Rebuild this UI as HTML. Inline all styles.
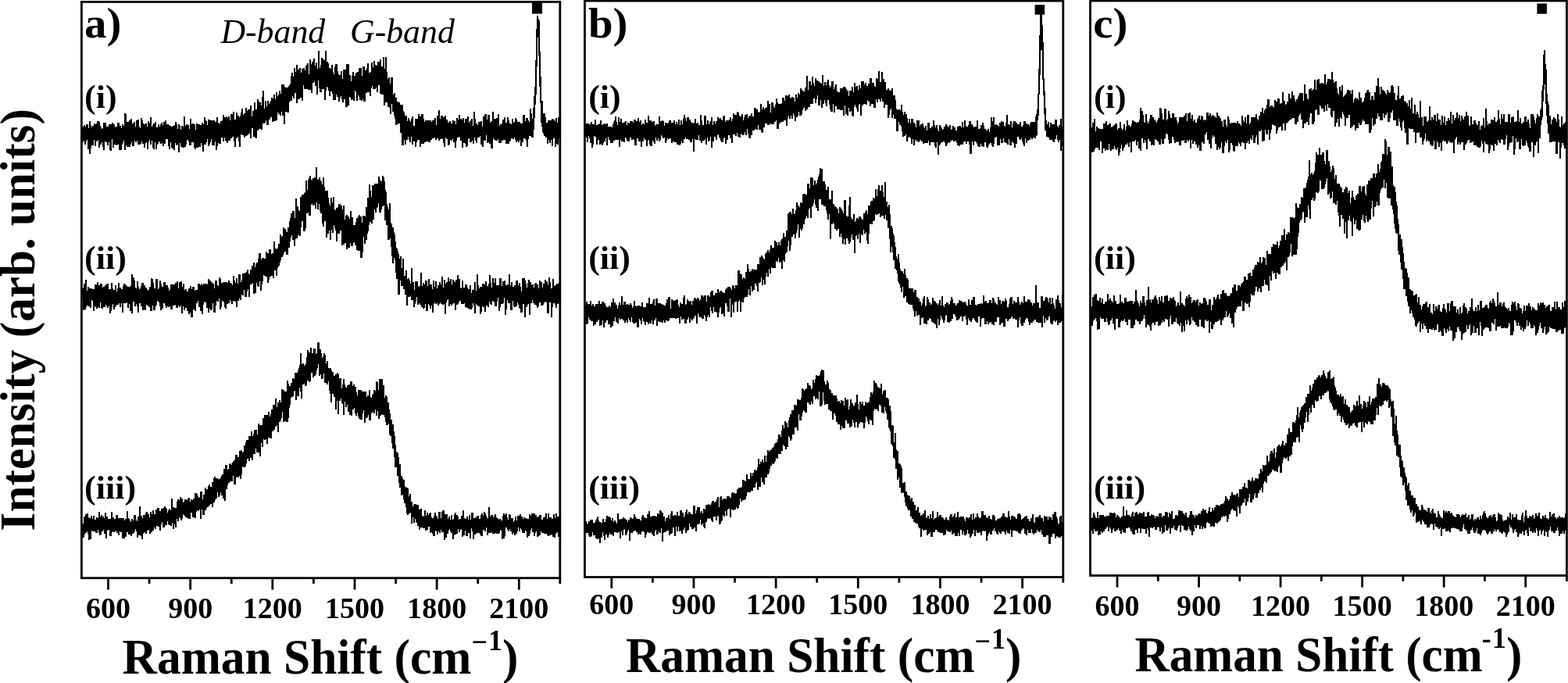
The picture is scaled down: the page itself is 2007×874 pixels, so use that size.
<!DOCTYPE html>
<html lang="en"><head><meta charset="utf-8"><title>Raman spectra</title>
<style>html,body{margin:0;padding:0;background:#fff;overflow:hidden}svg{display:block}</style></head>
<body>
<svg width="2007" height="874" viewBox="0 0 2007 874" font-family="'Liberation Serif', serif" fill="#000">
<rect width="2007" height="874" fill="#fff"/>
<g shape-rendering="crispEdges">
<path d="M105 162V162H107V160H109V162H110V159H113V164H114V155H116V160H117V163H118V161H120V158H122V159H123V158H124V155H127V156H128V161H129V163H130V165H131V164H132V157H136V162H139V159H143V157H145V159H147V163H148V162H150V157H153V161H155V164H156V159H158V161H159V145H161V146H162V156H165V154H167V152H169V158H171V156H173V162H174V154H176V153H178V162H179V164H180V151H182V154H183V158H184V159H186V158H188V162H189V155H191V157H192V150H194V162H195V160H196V158H198V156H200V163H202V159H204V162H205V159H206V157H208V160H209V156H211V154H213V159H216V160H217V161H219V162H221V161H223V160H224V156H226V159H227V165H228V159H230V161H231V166H232V161H234V162H235V149H237V161H238V159H240V160H242V165H243V152H245V159H246V158H248V159H250V166H251V158H253V159H256V160H258V157H260V159H261V150H263V154H264V155H265V160H266V153H269V154H275V156H277V150H279V157H280V158H282V155H284V154H285V147H287V150H289V149H291V151H292V149H294V154H295V146H298V143H300V153H302V144H304V148H306V150H307V148H308V144H309V139H311V147H312V145H314V138H316V142H317V140H320V135H322V149H323V142H325V131H327V140H329V127H331V130H332V131H334V135H335V124H336V116H338V139H339V129H341V136H342V129H344V133H345V131H346V129H347V125H349V126H350V121H352V127H353V118H355V123H356V121H357V116H359V120H360V108H364V111H365V112H369V110H370V109H371V107H372V97H373V93H375V98H376V87H378V92H379V83H381V89H383V87H385V93H386V88H388V87H390V90H391V84H392V83H393V81H395V95H396V76H398V82H399V79H401V75H403V84H404V80H406V88H407V65H409V87H410V83H411V74H413V76H415V77H416V65H418V79H420V81H421V87H423V88H424V83H426V92H427V95H428V85H429V82H432V91H433V95H434V96H436V91H438V101H439V89H443V82H447V96H449V104H450V97H451V92H453V97H455V93H457V92H459V87H463V97H464V85H467V90H469V87H470V81H472V93H474V92H475V80H477V86H478V78H480V83H482V84H483V79H486V76H488V85H490V73H492V88H493V73H495V92H496V101H497V99H499V107H500V99H503V121H504V119H506V125H508V130H510V131H512V134H516V142H517V144H518V148H521V155H522V151H524V154H525V156H526V152H527V149H529V161H531V152H535V146H537V149H539V146H542V152H543V156H544V154H552V156H553V154H555V153H556V151H558V160H559V148H561V141H563V152H564V148H567V150H569V148H571V153H573V156H574V157H575V155H577V158H579V154H581V155H583V159H584V151H586V153H587V147H589V152H591V153H592V151H594V157H595V152H598V149H600V157H601V155H602V154H603V152H605V161H606V143H608V152H609V158H611V160H612V156H615V155H617V162H618V149H620V146H623V153H624V147H627V157H628V155H630V143H632V152H635V151H637V146H639V161H640V159H642V158H643V153H645V150H647V157H649V150H651V154H652V158H654V159H655V152H657V157H658V156H659V151H661V153H662V156H666V158H669V147H672V155H673V151H676V154H677V156H678V139H680V145H681V152H682V138H683V123H684V111H685V77H686V37H687V20H689V24H690V26H691V66H692V98H693V129H695V145H698V150H699V157H701V154H706V152H708V153H710V155H711V151H713V157H714V150H716V177H715V185H713V184H712V188H710V177H708V187H706V179H705V183H703V179H702V184H700V176H698V174H696V171H695V169H694V162H693V157H692V132H691V111H690V72H689V48H688V85H687V121H686V134H685V151H684V166H683V176H680V174H677V178H676V188H674V180H673V178H672V177H670V182H668V187H666V179H665V182H663V180H662V182H660V179H659V176H658V178H656V177H654V180H653V181H652V184H647V179H644V180H642V183H638V178H637V180H634V179H632V177H631V190H628V184H626V182H625V183H623V173H622V180H619V188H617V185H615V174H614V176H611V183H609V180H608V176H607V184H605V180H604V182H601V177H600V178H599V187H598V188H596V184H595V183H593V189H591V180H589V176H588V175H587V176H585V180H584V189H582V182H580V178H579V180H577V179H576V185H575V186H573V178H571V176H570V188H568V183H567V178H566V177H565V178H563V180H561V177H559V179H557V176H556V177H553V179H551V182H548V181H545V182H543V184H539V188H537V179H534V182H533V188H531V181H529V185H527V175H526V182H524V179H523V175H522V179H520V185H518V179H517V186H514V170H512V158H510V159H508V160H506V152H505V148H504V143H502V133H501V146H499V138H498V137H496V131H493V135H491V121H488V120H486V109H484V118H482V112H481V114H477V110H476V113H475V123H473V118H470V119H468V130H465V127H464V129H462V128H460V124H459V122H458V129H456V118H455V116H454V129H452V127H451V128H449V125H448V124H447V135H445V137H442V127H440V131H438V127H437V123H436V125H435V130H433V124H431V121H430V128H426V120H425V117H423V123H421V116H420V112H419V111H418V116H417V128H415V114H412V118H409V113H408V103H407V121H405V110H403V104H402V106H400V119H398V115H394V114H389V109H388V129H386V125H384V127H381V132H379V119H377V126H375V123H374V129H371V131H370V144H367V143H365V159H363V148H361V143H360V148H358V146H356V144H355V154H353V155H350V156H348V150H346V153H344V160H341V154H340V157H339V158H336V166H334V165H331V167H329V177H327V176H326V175H324V164H322V177H320V171H318V173H316V174H314V176H312V173H310V172H308V188H306V181H305V175H304V177H302V188H300V181H299V175H297V177H295V180H292V183H290V181H289V180H288V176H287V181H285V176H283V184H280V183H279V187H278V192H276V181H275V186H271V178H270V182H269V185H268V187H266V178H265V182H264V185H261V194H259V186H258V183H257V188H254V189H251V191H249V189H248V182H245V186H242V181H241V179H239V185H238V188H236V189H233V188H231V183H230V195H228V185H227V186H225V183H224V192H222V190H220V189H219V182H218V191H216V187H215V178H212V184H210V187H208V183H207V184H205V182H204V181H203V184H202V185H201V191H199V182H198V191H196V189H195V180H194V185H192V179H191V182H190V191H188V182H187V183H186V189H184V184H182V181H181V184H180V185H176V180H175V182H173V180H172V187H169V182H168V185H167V188H162V186H161V192H159V180H158V183H157V185H156V192H152V185H150V186H148V185H146V189H144V178H143V193H141V192H140V182H139V186H137V182H135V181H134V192H132V188H131V182H130V185H128V189H126V179H125V181H123V187H121V179H120V186H117V190H116V197H114V191H112V179H111V181H110V185H108V180H107V182H105Z"/>
<path d="M105 369V369H106V368H107V363H109V358H111V372H112V367H114V369H118V370H121V364H124V361H126V365H128V363H131V368H132V367H134V365H136V363H139V370H142V362H144V369H145V371H147V365H149V373H150V369H151V362H153V368H155V370H157V366H158V363H160V364H161V365H162V366H163V367H167V365H168V351H170V355H172V359H173V368H174V369H175V360H177V367H178V370H179V369H180V366H181V362H184V365H186V368H188V370H189V372H190V370H191V367H193V356H195V357H196V362H197V369H199V357H202V370H203V368H204V359H206V363H207V367H209V361H212V365H215V368H216V372H217V370H218V364H224V362H226V360H228V369H229V361H231V360H233V367H234V363H236V371H237V370H239V373H241V369H243V366H245V370H246V367H249V372H250V371H253V363H256V365H257V363H259V365H260V363H265V364H266V357H268V359H270V361H272V363H274V369H275V359H278V365H279V366H280V355H282V357H283V362H285V361H291V362H292V359H294V362H296V363H297V365H298V353H300V359H301V362H302V356H304V363H305V351H308V361H309V358H310V350H313V349H315V348H316V345H318V350H319V351H320V345H322V340H324V336H326V342H327V338H328V336H330V331H331V324H334V332H335V330H338V331H340V322H342V324H344V319H347V325H348V324H350V309H352V318H354V319H355V317H356V312H358V300H360V303H361V302H362V291H364V293H366V296H367V297H368V291H370V283H371V279H372V273H374V270H377V279H378V254H380V264H382V269H383V270H384V252H386V249H389V247H390V246H391V231H393V243H394V230H395V228H396V225H398V230H400V228H402V227H404V214H406V229H407V230H408V227H410V231H411V232H412V236H413V227H415V239H416V244H420V253H421V260H422V263H423V253H425V259H426V252H428V268H429V269H430V266H432V265H433V261H436V263H438V268H439V263H441V281H442V276H443V275H445V277H447V280H448V270H450V278H452V288H455V284H456V279H458V277H459V275H461V277H463V285H464V276H467V277H468V265H470V253H472V236H474V244H475V252H476V237H479V235H484V226H486V230H487V232H489V225H491V227H492V232H493V243H494V246H495V261H496V265H497V268H498V260H500V285H501V287H502V291H504V297H505V300H506V309H507V317H508V318H509V322H510V325H511V331H512V328H514V343H515V331H517V353H519V346H521V357H522V356H524V359H525V363H526V343H528V361H530V371H531V360H535V366H536V367H537V365H538V349H540V366H541V362H543V364H544V359H547V366H548V357H550V364H553V370H554V359H556V367H557V360H559V369H560V365H562V361H564V364H565V354H567V368H568V358H570V363H571V361H573V355H575V360H576V357H578V364H579V358H581V360H582V361H583V358H585V352H587V357H589V368H590V369H591V359H593V368H595V364H598V368H599V370H601V365H603V375H604V371H606V370H607V361H609V372H610V351H612V365H613V369H614V367H617V363H620V364H621V360H623V366H625V363H626V352H628V362H629V368H630V356H632V362H633V356H635V365H639V356H642V366H643V360H645V359H647V365H649V364H651V351H653V365H654V361H656V367H658V365H660V359H663V365H664V362H666V367H667V373H668V356H672V359H673V363H674V368H675V362H676V358H678V361H680V364H683V368H684V363H685V362H687V364H689V369H690V359H692V361H694V368H695V363H697V358H699V360H701V364H702V355H704V361H705V369H707V357H709V366H710V365H712V363H715V361H716V388H715V389H713V394H711V390H710V388H708V393H707V406H705V387H703V401H700V387H699V386H698V387H696V390H695V391H692V387H690V392H689V394H687V391H686V390H684V388H682V384H681V388H679V403H677V389H676V390H675V393H673V406H671V389H669V400H666V395H665V394H664V390H663V387H662V392H660V393H658V392H657V385H656V397H653V388H650V384H649V396H648V403H646V381H645V388H644V389H641V393H640V398H638V381H637V386H636V392H633V386H631V385H630V390H628V389H627V386H626V393H624V391H622V399H620V393H618V392H617V399H616V402H614V392H612V391H610V389H609V401H607V391H606V388H605V394H604V396H601V395H599V394H597V393H595V388H594V389H590V385H588V387H587V389H586V390H584V397H582V388H580V389H579V391H577V389H576V392H574V383H573V384H572V387H571V402H569V389H568V390H566V389H564V387H563V389H562V391H560V388H559V389H557V387H556V389H555V400H553V391H552V395H550V391H549V389H548V398H545V389H544V394H543V395H541V393H539V390H537V388H536V390H534V380H533V386H532V389H531V393H529V384H526V379H525V380H522V391H520V377H518V370H516V366H513V359H512V377H509V357H507V349H506V333H505V330H504V337H502V328H501V316H500V305H499V307H496V288H494V282H492V263H491V264H489V268H488V272H485V260H484V265H483V266H482V272H480V268H479V281H477V286H475V284H473V288H472V296H471V299H470V307H468V312H466V303H465V323H464V330H461V321H458V320H456V314H454V310H453V311H452V315H449V311H448V317H445V319H443V311H441V313H439V314H437V295H435V299H432V309H430V295H429V292H428V288H427V298H425V294H424V307H422V295H421V299H419V304H417V283H415V290H413V286H412V273H410V270H409V261H408V268H406V259H405V267H403V262H402V263H400V261H399V262H398V276H395V272H394V273H392V292H391V296H388V283H386V291H385V302H383V301H381V305H379V306H378V315H376V307H374V301H373V304H372V309H371V317H369V326H366V322H364V324H363V327H362V329H360V333H359V336H358V340H357V341H356V343H355V353H353V346H351V356H349V353H347V354H345V358H344V362H342V354H340V353H338V352H337V360H336V364H335V372H333V360H332V367H330V366H329V362H328V375H326V376H324V362H323V364H320V380H318V370H317V373H316V380H313V371H312V378H310V377H309V384H307V382H306V385H304V393H302V386H300V385H298V389H296V386H295V384H294V388H292V389H290V395H288V393H287V387H286V385H284V393H283V396H281V382H280V386H278V385H277V391H276V400H273V388H272V396H271V397H269V395H268V400H266V394H264V387H262V386H261V390H260V402H258V398H256V393H254V385H253V388H251V398H249V396H247V406H244V400H243V402H241V398H239V394H237V397H235V392H234V401H232V391H231V393H229V391H228V394H225V390H224V391H221V396H218V392H217V393H215V392H214V394H212V391H211V388H209V395H207V397H205V392H204V387H203V386H202V385H201V390H200V392H199V397H196V391H195V398H192V393H190V391H188V390H187V397H185V396H184V397H182V392H180V388H178V400H176V392H175V389H174V392H172V386H170V401H168V398H166V389H165V394H163V387H162V388H158V400H156V388H155V393H153V388H152V390H149V392H148V393H147V396H145V389H144V393H143V398H142V401H140V392H139V394H137V392H136V390H135V393H132V395H130V394H129V387H128V394H126V393H125V395H123V393H122V392H121V398H119V385H118V384H117V394H115V392H113V391H111V393H110V396H108V397H106V383H105Z"/>
<path d="M105 670V670H107V661H109V658H111V657H113V662H114V663H116V660H118V664H119V660H121V665H123V662H125V663H126V655H128V661H129V659H131V661H133V663H134V656H136V661H138V664H142V655H144V662H146V664H148V659H151V663H159V666H160V664H162V654H164V663H165V664H166V666H167V668H168V664H170V666H171V659H174V665H175V667H176V661H178V648H180V660H182V663H183V659H186V656H187V655H189V657H190V658H191V662H192V655H194V658H195V653H197V658H199V652H201V650H204V654H206V651H208V650H210V648H212V650H213V651H214V656H215V653H216V651H218V653H219V638H221V649H223V650H226V642H227V639H229V640H230V636H232V638H234V643H235V642H236V639H239V640H240V638H241V637H243V642H244V639H246V640H247V638H249V631H252V632H253V635H254V637H255V636H256V629H259V639H260V633H262V624H264V626H266V622H267V620H269V623H271V617H273V612H274V610H276V612H279V613H282V611H283V609H284V607H286V600H288V595H291V601H292V600H293V594H294V593H296V595H297V592H298V590H300V588H301V582H304V585H306V577H308V576H310V579H311V578H312V570H314V566H315V563H318V558H321V552H323V558H324V555H325V550H329V556H330V542H332V544H336V535H338V531H343V527H345V533H346V530H347V524H349V518H352V510H354V521H355V515H357V512H359V515H360V498H362V499H364V501H367V487H369V491H370V494H372V490H374V484H376V485H377V477H381V474H382V471H383V467H384V452H386V466H387V465H389V468H390V467H391V465H392V457H393V448H395V451H397V445H399V452H401V446H404V453H405V452H406V438H409V447H411V452H412V458H413V456H414V452H416V454H417V465H418V462H420V471H424V474H425V476H427V481H429V479H431V477H433V479H434V484H437V497H438V492H439V485H441V492H442V495H443V496H444V493H446V492H448V488H451V494H452V492H454V495H456V502H457V506H458V499H463V501H469V508H470V506H472V499H474V508H475V509H476V505H477V504H478V499H480V500H481V488H483V489H484V499H485V485H490V493H492V509H493V506H495V508H496V515H498V524H499V529H500V537H502V543H504V552H505V558H506V569H507V578H509V580H510V585H511V594H513V609H515V612H516V614H518V623H520V624H522V625H523V635H524V632H526V642H528V648H529V646H530V645H533V646H536V652H538V651H540V660H542V661H543V653H545V660H546V656H548V659H549V657H550V656H552V662H553V663H555V660H556V656H558V660H559V661H560V664H561V655H564V663H565V655H566V653H569V658H573V664H574V661H576V665H577V659H579V665H580V664H581V658H582V656H584V659H586V661H587V665H588V664H590V660H592V653H594V663H595V664H597V661H599V665H600V659H602V665H603V656H606V663H608V662H610V660H613V664H615V659H616V657H618V660H619V655H621V657H622V660H623V663H625V649H627V661H628V659H631V662H632V660H633V658H635V662H636V663H638V665H639V664H641V666H643V660H644V657H646V659H647V657H649V662H650V665H651V658H653V659H654V663H657V668H658V666H659V661H661V666H662V660H665V658H667V661H669V664H670V662H672V663H674V664H677V658H679V660H680V657H685V659H687V662H688V661H690V659H693V665H695V662H697V661H698V657H700V664H701V657H703V662H706V664H708V658H710V663H711V657H713V661H716V687H714V681H713V682H712V683H711V688H709V687H707V684H705V685H703V686H701V685H700V683H696V682H693V680H692V685H690V686H689V687H687V680H686V682H685V686H683V681H681V676H680V679H679V683H678V686H676V688H674V680H673V679H672V682H668V678H667V676H666V680H664V675H663V680H662V683H660V685H658V682H657V684H655V680H653V677H652V680H650V678H649V675H647V686H646V689H644V690H642V679H641V678H640V682H639V683H635V682H634V683H630V681H629V682H625V685H623V675H622V680H620V678H618V686H615V684H614V682H610V683H609V684H607V690H605V680H604V676H603V689H601V682H599V686H596V679H595V685H593V687H591V677H590V678H589V681H587V677H586V683H584V684H582V685H581V690H579V682H577V680H576V677H575V679H574V683H572V688H570V691H568V681H565V678H564V682H562V680H561V684H559V680H558V679H557V686H554V683H553V681H552V682H550V674H548V678H546V679H544V676H541V675H538V678H536V673H534V669H533V668H532V664H531V669H529V662H528V670H526V656H525V657H523V659H521V657H520V649H519V644H517V639H516V633H515V634H513V624H511V618H510V609H508V598H505V585H504V574H502V567H501V558H499V556H498V542H497V544H494V540H493V534H492V531H489V530H488V532H486V536H484V526H483V532H481V524H480V529H478V527H477V528H476V529H475V538H472V531H471V534H470V535H468V541H466V525H465V529H464V537H461V536H459V533H458V528H457V532H455V529H454V522H453V524H451V532H449V531H447V527H445V518H444V521H442V514H441V531H439V517H438V516H437V510H436V513H434V530H432V513H431V524H429V508H427V504H425V515H423V504H422V500H421V488H420V492H418V490H415V478H414V484H413V485H411V479H410V481H408V466H407V471H406V474H405V479H404V481H402V483H400V477H398V488H397V489H395V487H393V493H392V494H390V491H389V492H387V510H385V501H384V496H383V507H380V512H378V500H377V501H376V507H375V508H373V509H372V518H371V522H370V535H369V540H366V539H364V540H362V527H361V535H360V538H359V540H357V553H355V544H354V546H352V550H350V552H348V561H345V560H343V568H341V562H340V563H338V562H337V572H335V567H334V584H332V579H328V574H327V581H324V589H322V586H320V590H318V587H316V593H315V597H314V598H311V597H310V607H309V613H307V609H306V611H304V610H303V611H302V620H299V609H298V616H294V618H292V621H291V626H289V641H287V638H285V634H283V630H282V634H281V636H279V630H278V638H276V640H275V643H273V649H271V645H269V647H267V649H265V650H264V653H262V659H259V652H258V664H256V652H255V654H253V653H252V655H251V663H249V662H246V656H244V664H241V663H239V662H237V660H235V658H234V664H233V666H231V663H230V662H229V667H227V664H226V675H224V671H223V677H221V669H220V673H218V672H216V671H215V667H214V672H211V675H208V668H207V671H206V679H204V674H202V673H200V677H198V675H197V679H195V681H193V683H191V678H190V679H188V683H186V681H185V682H184V683H183V690H181V686H180V685H177V688H175V680H174V677H173V680H172V682H171V683H169V686H167V684H164V681H162V687H160V689H156V681H154V680H153V685H151V682H149V679H148V680H147V681H145V680H144V681H143V686H140V678H138V679H137V689H135V683H133V678H132V680H130V684H129V685H127V682H126V678H125V682H122V680H118V679H117V690H115V691H113V683H112V680H111V682H109V684H108V688H105Z"/>
<path d="M749 160V160H750V158H754V159H756V156H758V159H761V153H763V160H765V159H767V158H768V154H770V160H771V159H773V158H775V159H776V158H778V162H783V163H784V159H785V156H786V154H787V149H789V156H790V160H791V150H793V156H794V152H796V157H799V156H800V155H802V160H803V157H805V158H806V155H810V157H811V153H814V155H816V151H818V156H819V154H821V160H822V158H824V159H825V153H827V157H829V148H831V154H834V156H836V155H838V161H839V159H843V149H845V155H847V154H849V155H850V161H851V157H854V158H855V157H856V154H859V157H862V154H864V159H865V156H867V159H868V153H870V160H871V154H873V159H874V152H875V147H877V151H878V155H879V150H882V153H884V156H885V157H887V158H888V157H889V152H891V158H892V157H894V160H896V147H898V154H899V160H901V148H904V159H905V154H907V159H908V156H909V155H910V150H912V160H913V155H915V158H916V155H918V150H920V152H921V151H923V153H924V154H925V149H926V148H928V156H929V154H933V153H934V150H936V155H937V152H938V145H940V147H943V143H945V144H946V148H947V149H949V146H951V154H952V150H953V147H955V146H957V151H958V149H959V148H961V145H963V149H965V138H968V140H970V143H971V144H972V143H973V133H975V140H976V137H978V140H979V138H981V137H982V129H984V133H986V144H987V131H990V136H991V138H992V134H993V126H995V131H996V133H1000V132H1001V125H1004V129H1005V122H1008V123H1009V121H1011V125H1012V126H1013V124H1015V125H1017V130H1018V121H1020V125H1021V119H1023V121H1024V113H1026V115H1027V116H1028V117H1030V113H1031V111H1032V97H1034V115H1035V104H1038V109H1039V98H1041V106H1042V110H1043V100H1045V103H1047V104H1049V106H1051V107H1052V96H1054V110H1055V105H1057V109H1058V105H1059V102H1061V109H1062V112H1063V110H1064V104H1067V114H1068V111H1069V108H1071V116H1072V118H1075V113H1079V111H1082V112H1083V114H1084V116H1086V123H1087V116H1090V111H1092V118H1093V106H1095V111H1096V110H1098V115H1099V109H1101V113H1102V104H1106V108H1107V106H1109V110H1111V107H1113V100H1116V106H1119V110H1120V111H1121V100H1123V101H1124V91H1126V105H1128V92H1130V101H1132V105H1134V115H1136V113H1138V115H1139V116H1141V113H1143V122H1146V128H1147V139H1148V141H1149V140H1152V141H1153V134H1155V143H1156V147H1157V143H1159V146H1161V151H1162V157H1163V152H1165V158H1166V152H1169V157H1171V159H1172V163H1173V154H1177V161H1178V159H1180V158H1182V162H1183V164H1184V161H1186V167H1187V157H1190V164H1192V162H1194V154H1196V160H1197V163H1198V160H1200V165H1201V168H1202V160H1204V162H1205V164H1206V166H1207V165H1208V162H1210V159H1212V161H1214V163H1215V160H1217V166H1218V165H1219V161H1221V163H1223V167H1225V162H1227V161H1230V163H1231V156H1233V163H1234V154H1236V161H1237V162H1239V160H1240V155H1243V159H1245V161H1246V163H1247V162H1250V154H1252V165H1254V164H1255V160H1257V157H1259V161H1260V165H1262V167H1264V165H1266V169H1267V163H1268V150H1270V155H1271V150H1273V160H1274V159H1276V160H1278V162H1279V157H1281V155H1283V156H1285V161H1286V162H1287V157H1288V147H1290V159H1292V160H1293V155H1295V163H1296V158H1297V155H1300V157H1302V159H1305V156H1307V162H1309V160H1310V155H1313V158H1315V159H1317V161H1318V158H1319V156H1325V149H1326V146H1327V140H1328V120H1329V88H1330V45H1331V18H1332V17H1334V32H1335V54H1336V100H1337V117H1338V138H1339V154H1340V159H1341V156H1343V163H1344V157H1346V159H1350V153H1353V161H1354V163H1355V160H1357V152H1359V162H1360V187H1359V193H1357V179H1356V182H1354V179H1353V173H1352V178H1350V182H1348V181H1347V179H1343V176H1341V175H1339V167H1337V146H1336V122H1335V102H1334V64H1333V65H1332V96H1331V121H1330V148H1329V154H1328V173H1327V174H1326V177H1324V176H1322V178H1320V176H1319V179H1317V180H1315V183H1313V177H1312V187H1310V184H1309V181H1308V177H1307V179H1305V178H1304V175H1302V184H1300V189H1298V183H1296V181H1295V186H1292V178H1291V185H1289V183H1287V182H1285V177H1284V183H1281V178H1280V186H1276V175H1275V176H1273V184H1272V188H1270V186H1269V183H1267V184H1266V186H1265V189H1263V188H1262V182H1260V188H1258V187H1256V184H1255V188H1252V187H1251V184H1250V182H1249V181H1247V186H1245V181H1244V197H1241V185H1240V181H1238V184H1236V181H1234V182H1233V185H1229V187H1227V186H1225V183H1224V180H1223V181H1220V179H1219V180H1217V181H1216V183H1214V182H1213V185H1212V187H1210V183H1209V181H1207V182H1205V183H1204V185H1203V186H1202V198H1200V182H1199V189H1197V187H1196V182H1191V186H1189V180H1188V183H1183V184H1181V181H1179V179H1178V180H1177V182H1175V181H1173V179H1172V180H1171V186H1169V178H1168V184H1166V177H1165V175H1164V176H1162V181H1160V172H1159V174H1157V175H1155V168H1154V162H1153V160H1151V156H1150V168H1147V152H1144V147H1143V151H1141V139H1140V141H1139V147H1138V151H1136V134H1133V138H1131V130H1129V126H1128V130H1126V127H1124V131H1122V127H1121V138H1118V133H1115V136H1113V130H1111V128H1110V134H1108V133H1105V135H1103V148H1101V133H1100V134H1099V143H1097V139H1096V137H1095V134H1094V137H1093V149H1091V148H1090V142H1089V143H1087V138H1086V148H1084V146H1082V135H1081V148H1079V141H1075V140H1071V136H1069V144H1067V133H1066V143H1063V140H1062V134H1061V128H1059V136H1057V132H1056V128H1055V133H1053V138H1051V128H1050V135H1047V122H1046V127H1045V132H1043V126H1041V133H1037V137H1034V140H1032V142H1030V137H1029V139H1028V141H1027V146H1026V148H1023V143H1022V148H1021V150H1019V155H1017V148H1016V145H1015V152H1013V148H1012V152H1010V148H1009V151H1008V161H1006V154H1003V156H999V158H997V165H994V154H993V156H991V159H986V158H985V160H982V158H979V163H977V170H975V169H974V166H971V160H970V166H968V165H966V167H963V173H961V177H959V176H958V171H957V165H956V173H954V169H953V172H952V173H950V172H949V171H948V176H946V175H944V170H943V174H941V172H938V183H936V177H934V173H932V179H930V184H928V176H927V177H926V182H923V180H922V177H921V176H920V172H919V173H918V179H916V175H914V181H912V189H910V175H909V180H908V181H906V176H905V185H903V178H902V180H899V183H897V180H895V173H894V179H890V178H889V194H887V178H886V182H883V179H881V178H878V176H877V178H875V183H873V181H872V184H871V186H869V185H866V182H863V181H861V183H859V177H857V178H855V177H854V180H853V183H851V176H850V177H848V175H847V173H846V179H845V181H843V177H842V180H840V176H839V184H837V182H836V180H835V187H832V185H831V179H830V180H829V187H827V179H825V177H824V181H822V188H820V181H817V177H815V186H812V179H811V178H810V179H808V176H806V181H803V180H802V177H801V176H800V182H798V181H795V179H794V188H792V179H787V180H785V183H781V179H779V175H778V186H776V177H775V181H773V183H772V186H770V184H769V185H767V179H765V185H763V175H761V174H760V185H759V189H757V183H755V177H754V174H753V182H751V176H750V174H749Z"/>
<path d="M749 392V392H750V386H752V389H755V385H757V391H758V389H760V392H762V389H766V385H768V389H770V386H773V388H775V391H776V393H779V391H781V393H782V387H784V382H786V387H788V390H790V395H791V391H792V387H794V390H795V379H797V390H798V386H801V390H802V389H804V390H806V388H808V390H809V394H810V392H811V385H813V391H814V392H816V391H819V392H821V387H823V393H827V388H830V381H832V389H835V386H836V383H838V391H839V382H842V388H846V389H848V390H850V391H852V388H853V383H855V380H858V395H859V383H861V384H862V385H864V384H866V383H868V390H869V393H870V387H872V389H874V381H875V378H877V390H878V389H879V383H881V385H882V386H883V385H885V390H886V385H888V381H890V382H891V383H892V381H894V382H895V385H896V383H897V378H900V380H901V378H904V386H905V378H908V380H909V374H910V372H913V378H915V375H918V370H920V374H921V373H922V372H924V374H926V375H928V371H929V369H931V367H935V369H936V371H937V365H939V366H940V369H941V365H944V346H947V350H948V351H950V357H951V355H953V357H954V348H956V338H958V344H959V348H960V347H962V344H964V345H969V338H972V329H974V327H976V329H977V331H978V332H979V325H980V323H982V320H984V323H985V319H986V314H988V317H991V308H993V310H995V314H996V310H998V314H999V308H1000V306H1001V305H1002V298H1004V303H1006V295H1008V273H1010V271H1013V274H1014V267H1016V274H1017V273H1018V269H1019V259H1021V263H1023V265H1024V259H1026V260H1027V249H1028V248H1031V249H1033V235H1036V241H1037V227H1040V228H1041V237H1042V231H1044V236H1045V234H1046V230H1047V226H1048V223H1049V215H1051V216H1053V232H1056V236H1057V243H1059V239H1061V255H1064V244H1066V261H1068V264H1070V265H1071V267H1073V273H1074V265H1076V267H1078V270H1079V273H1080V256H1083V276H1084V277H1086V263H1087V252H1089V278H1090V281H1091V280H1092V274H1094V284H1095V282H1096V279H1098V280H1099V277H1102V279H1103V281H1105V273H1107V271H1108V269H1110V274H1111V263H1114V258H1115V257H1117V253H1119V254H1120V242H1122V251H1123V242H1124V237H1126V244H1128V237H1130V246H1131V252H1132V233H1134V258H1136V265H1137V262H1139V274H1140V289H1142V292H1143V299H1144V302H1145V310H1146V316H1147V328H1148V331H1149V325H1151V336H1152V344H1153V347H1156V350H1157V344H1159V352H1160V356H1162V358H1163V368H1164V369H1169V374H1170V371H1173V380H1175V382H1177V386H1179V391H1180V388H1181V382H1182V379H1184V392H1185V391H1186V380H1188V383H1189V387H1191V390H1192V389H1193V381H1195V385H1197V386H1198V388H1200V390H1201V388H1202V384H1204V391H1205V379H1207V391H1208V393H1209V389H1211V387H1214V390H1215V389H1216V385H1217V380H1219V383H1220V388H1223V391H1224V390H1225V388H1227V384H1229V385H1231V386H1232V387H1234V386H1236V388H1237V391H1239V383H1241V390H1243V384H1245V380H1248V390H1250V391H1251V389H1255V388H1257V389H1258V378H1260V386H1261V385H1263V388H1265V387H1266V384H1269V388H1270V381H1272V383H1273V387H1275V389H1276V390H1277V380H1279V384H1281V389H1282V386H1283V385H1285V386H1286V382H1288V385H1289V393H1291V389H1292V382H1293V380H1296V389H1297V385H1299V387H1302V380H1304V386H1305V390H1306V388H1307V386H1309V388H1310V379H1312V386H1315V383H1318V384H1319V387H1321V391H1322V388H1325V365H1327V387H1330V394H1332V379H1335V385H1337V383H1338V380H1340V381H1341V383H1342V387H1343V381H1345V389H1346V381H1348V388H1349V391H1350V395H1351V383H1353V378H1355V384H1356V388H1358V393H1359V378H1360V411H1358V413H1355V416H1353V410H1352V412H1350V410H1349V411H1348V415H1345V413H1344V405H1342V409H1341V410H1339V407H1338V413H1336V404H1335V419H1333V413H1328V412H1326V409H1324V411H1322V413H1319V416H1317V412H1316V408H1315V407H1313V409H1312V413H1310V417H1307V414H1306V406H1305V410H1304V419H1302V409H1299V407H1298V408H1296V405H1295V406H1294V408H1292V409H1291V411H1289V408H1287V418H1284V413H1282V414H1281V416H1279V406H1276V412H1273V416H1271V415H1269V412H1268V413H1266V415H1264V411H1263V415H1260V407H1257V408H1256V418H1254V405H1252V413H1250V412H1249V411H1248V409H1247V407H1245V409H1244V412H1242V410H1240V407H1239V416H1237V409H1236V404H1235V405H1233V411H1231V405H1229V407H1228V409H1226V410H1224V406H1223V404H1222V402H1220V408H1218V411H1216V413H1214V412H1212V403H1211V404H1210V410H1209V413H1207V409H1206V407H1205V404H1204V410H1203V416H1201V408H1200V420H1198V415H1196V413H1194V412H1192V408H1190V407H1189V410H1187V415H1185V414H1182V406H1181V407H1179V416H1177V403H1175V404H1173V398H1172V405H1170V398H1169V395H1168V390H1164V389H1162V387H1160V379H1158V381H1156V367H1155V374H1153V368H1152V364H1151V362H1150V360H1149V350H1148V346H1147V344H1145V333H1143V323H1142V316H1141V323H1139V306H1138V292H1136V282H1134V275H1133V280H1131V276H1128V278H1126V273H1125V274H1123V275H1121V274H1120V282H1119V283H1117V287H1115V286H1114V287H1113V299H1112V312H1110V308H1109V297H1108V299H1106V294H1105V301H1103V300H1102V311H1100V299H1099V306H1097V301H1096V302H1095V324H1093V307H1091V300H1090V304H1089V310H1088V312H1086V308H1085V305H1083V313H1081V306H1080V312H1078V304H1077V299H1076V303H1074V293H1072V295H1070V293H1068V287H1067V285H1066V287H1064V306H1062V274H1061V281H1059V273H1058V269H1057V264H1054V262H1051V255H1048V270H1046V266H1044V262H1043V255H1042V260H1041V264H1039V279H1037V266H1036V268H1035V279H1033V276H1032V279H1031V281H1030V287H1028V292H1027V295H1025V293H1024V304H1022V287H1021V294H1020V298H1019V305H1017V300H1015V303H1013V314H1012V321H1010V308H1009V315H1008V323H1006V325H1005V335H1003V333H1002V344H1000V335H999V336H997V330H996V335H994V334H993V343H988V342H987V350H985V344H984V354H982V349H981V354H980V364H978V358H977V365H975V355H974V361H973V362H971V373H969V366H968V363H966V371H964V373H962V366H961V378H959V370H958V377H957V380H953V382H952V387H950V386H949V399H947V384H946V386H945V399H943V386H941V387H940V400H938V390H937V406H935V382H934V399H931V392H930V388H928V405H926V401H925V402H923V393H922V395H921V400H920V406H918V400H917V399H914V393H913V401H911V398H910V393H909V406H907V403H906V406H905V411H903V405H902V403H901V408H898V406H895V404H894V401H893V414H891V404H889V407H888V408H887V410H885V408H884V413H882V406H881V409H879V414H876V408H874V409H872V405H871V414H869V407H866V408H864V407H857V410H856V411H854V410H852V413H850V410H849V413H847V412H843V411H842V417H840V407H839V410H837V415H835V410H834V414H832V413H831V415H829V412H827V416H825V412H824V411H823V407H822V415H820V410H819V408H818V419H815V413H813V414H810V412H809V406H808V412H806V410H805V407H804V413H802V410H801V413H799V410H797V408H795V409H793V407H792V414H790V412H788V406H787V411H785V417H783V419H781V415H778V410H776V413H774V419H772V410H771V416H769V417H767V409H766V410H765V412H763V415H761V417H759V411H756V409H754V406H753V414H752V415H750V409H749Z"/>
<path d="M749 667V667H751V670H753V667H755V665H759V669H762V666H763V664H764V661H766V666H767V668H769V669H771V664H773V668H775V664H776V660H778V661H780V662H782V666H783V663H785V668H786V666H788V668H789V670H790V657H792V664H793V665H794V664H797V662H799V663H800V664H801V665H803V668H804V665H806V662H808V663H809V664H810V663H811V658H813V661H814V663H815V664H819V666H821V661H822V659H824V662H826V663H828V658H830V654H832V661H835V660H839V661H841V657H843V658H844V653H846V654H847V656H849V661H851V667H852V663H854V662H855V659H857V664H858V657H859V654H861V660H863V659H865V660H866V655H868V660H870V653H873V656H875V662H876V659H877V655H878V652H880V658H881V655H883V656H884V658H887V647H890V657H891V653H892V649H896V656H897V654H899V657H900V651H902V652H903V646H906V645H908V646H910V644H911V641H914V643H915V642H917V639H918V636H920V649H921V637H922V635H924V640H925V638H929V639H930V635H934V637H936V631H937V630H939V631H941V632H942V631H943V626H945V624H949V623H950V614H952V615H954V616H955V607H957V613H960V605H962V609H963V605H965V601H967V602H969V598H970V587H972V594H973V591H975V588H977V592H978V583H980V591H981V583H982V576H984V578H985V576H987V575H988V573H990V571H991V568H992V567H993V566H995V562H996V556H999V559H1000V551H1001V544H1003V548H1004V539H1006V541H1008V547H1009V538H1010V534H1011V530H1013V525H1016V518H1019V519H1020V511H1023V512H1025V509H1026V497H1028V498H1029V500H1030V498H1032V497H1033V490H1035V493H1037V494H1038V498H1039V497H1040V486H1042V490H1043V485H1044V480H1046V481H1049V479H1050V475H1051V473H1053V474H1055V488H1056V492H1058V487H1060V490H1061V498H1063V500H1064V503H1066V506H1071V510H1072V514H1073V513H1075V516H1076V512H1078V513H1080V519H1081V509H1083V512H1084V511H1086V524H1087V520H1088V511H1090V516H1092V519H1094V515H1096V505H1098V517H1099V524H1100V514H1102V517H1103V514H1105V519H1107V514H1109V516H1110V515H1112V514H1113V508H1114V502H1116V504H1117V501H1118V487H1120V490H1122V492H1123V495H1124V496H1126V497H1127V491H1129V504H1130V500H1132V499H1134V509H1137V511H1138V519H1140V526H1141V544H1143V545H1144V566H1145V554H1147V575H1148V577H1150V593H1152V594H1153V596H1154V599H1155V618H1157V617H1159V629H1161V633H1162V634H1164V635H1165V639H1166V637H1168V642H1170V646H1172V653H1174V649H1176V656H1178V660H1179V659H1181V657H1183V653H1185V662H1186V663H1187V660H1189V664H1190V658H1192V663H1193V654H1195V665H1196V663H1198V662H1199V655H1201V661H1202V659H1205V662H1207V663H1208V665H1210V662H1212V665H1214V666H1215V661H1216V658H1219V662H1220V660H1221V657H1223V662H1225V655H1227V662H1229V661H1234V664H1235V667H1236V662H1239V663H1240V662H1242V658H1244V665H1245V657H1247V664H1248V662H1250V657H1252V661H1253V663H1255V662H1256V654H1259V659H1262V662H1264V663H1265V660H1267V664H1269V665H1270V659H1273V661H1274V666H1276V664H1279V663H1281V661H1283V657H1286V661H1287V662H1290V654H1292V661H1293V665H1294V660H1297V661H1299V662H1300V664H1302V658H1303V657H1306V659H1307V665H1308V664H1309V663H1311V661H1313V660H1315V664H1317V667H1319V663H1321V658H1323V668H1324V669H1325V662H1328V661H1330V659H1332V662H1333V663H1335V667H1336V660H1338V661H1341V665H1342V661H1344V662H1346V665H1347V658H1349V655H1352V661H1353V664H1354V670H1356V661H1357V660H1359V668H1360V686H1358V688H1355V687H1353V686H1352V689H1350V683H1347V687H1345V696H1342V685H1339V687H1335V684H1333V678H1332V681H1330V680H1328V678H1327V682H1324V684H1322V682H1321V677H1320V682H1316V678H1315V685H1313V683H1311V677H1310V676H1309V678H1308V679H1307V683H1305V682H1303V680H1300V679H1296V687H1294V678H1293V683H1291V682H1289V679H1288V684H1286V681H1285V680H1282V683H1280V682H1279V680H1278V684H1276V683H1275V680H1273V676H1272V679H1270V684H1267V681H1266V683H1265V686H1264V692H1262V679H1261V680H1259V679H1258V680H1257V685H1255V681H1253V682H1250V679H1249V686H1247V678H1246V683H1244V686H1243V688H1241V683H1239V678H1238V683H1237V685H1234V680H1233V684H1231V678H1229V686H1227V682H1226V686H1222V682H1221V683H1220V684H1218V679H1217V681H1215V680H1212V678H1211V684H1209V685H1207V682H1203V681H1200V679H1199V678H1197V681H1194V687H1191V681H1190V683H1188V685H1186V678H1183V679H1181V677H1180V687H1178V676H1176V674H1175V670H1172V669H1171V668H1169V664H1167V661H1165V653H1162V651H1161V648H1159V643H1158V636H1157V631H1156V630H1155V631H1153V624H1151V611H1150V614H1148V600H1146V588H1145V586H1143V571H1142V569H1141V568H1140V552H1139V549H1138V547H1137V537H1135V529H1134V526H1133V521H1132V529H1130V528H1128V520H1127V518H1125V526H1123V523H1122V524H1120V523H1119V526H1118V544H1116V538H1114V537H1113V543H1111V539H1110V535H1109V533H1108V541H1107V548H1105V541H1103V540H1101V542H1099V547H1097V540H1095V547H1093V541H1092V537H1091V545H1090V546H1089V547H1087V542H1084V538H1082V548H1078V545H1077V550H1075V543H1072V540H1070V532H1069V529H1067V537H1065V526H1062V524H1060V517H1057V518H1055V513H1054V502H1053V518H1052V520H1049V501H1048V511H1046V509H1045V511H1043V507H1041V517H1039V514H1038V518H1036V517H1035V515H1033V528H1030V526H1029V525H1028V528H1027V533H1026V538H1023V530H1022V551H1020V547H1017V556H1014V562H1013V564H1011V560H1010V558H1009V572H1007V575H1005V571H1003V569H1002V577H1000V581H996V587H994V586H993V590H992V592H991V594H989V593H988V596H986V600H985V605H984V607H982V611H979V620H977V617H975V611H974V623H971V627H969V617H968V619H967V624H964V628H961V630H956V635H955V639H953V640H950V642H948V638H947V646H946V650H945V651H943V649H942V652H940V653H938V652H936V662H934V651H932V652H931V660H929V654H928V661H926V659H925V666H924V667H923V670H922V671H920V661H919V660H918V666H916V661H913V668H911V666H910V663H909V664H907V663H906V664H905V668H903V676H901V674H900V670H899V672H897V665H896V670H895V671H892V680H890V675H888V677H885V674H883V670H882V678H881V679H879V682H877V675H876V678H874V683H872V679H871V680H869V674H868V680H866V674H865V686H863V675H861V682H860V683H858V685H856V679H853V681H850V682H849V693H847V676H846V682H844V680H843V683H842V684H840V678H839V680H838V686H836V684H834V681H833V682H830V681H828V684H827V688H825V681H824V680H821V684H819V683H818V684H816V681H814V679H812V680H810V682H807V692H805V678H804V680H803V683H802V685H800V677H799V678H798V685H796V680H795V689H793V681H791V682H789V681H786V686H784V684H781V682H780V685H779V688H777V684H775V691H773V686H772V681H771V688H769V695H767V689H766V690H764V689H762V685H759V681H758V686H757V687H754V685H753V682H749Z"/>
<path d="M1396 165V165H1397V163H1398V157H1400V152H1402V168H1403V162H1405V164H1407V165H1412V158H1415V155H1417V160H1419V158H1422V163H1423V162H1425V160H1427V158H1430V166H1431V164H1433V156H1435V164H1436V166H1437V165H1438V159H1440V167H1441V162H1442V154H1444V160H1446V162H1448V158H1449V154H1451V155H1452V156H1454V157H1456V156H1458V153H1459V138H1461V142H1463V147H1464V156H1465V157H1466V146H1468V155H1469V158H1470V156H1471V152H1472V147H1475V150H1477V153H1479V155H1480V157H1481V154H1482V151H1484V138H1486V139H1487V145H1488V153H1490V139H1493V154H1494V152H1495V142H1497V146H1498V151H1500V145H1503V150H1506V154H1507V158H1508V156H1509V150H1515V148H1517V145H1519V155H1520V145H1522V144H1524V152H1525V147H1527V155H1528V153H1530V157H1532V152H1533V151H1534V148H1536V153H1537V148H1539V149H1540V154H1541V153H1543V154H1544V144H1547V148H1548V145H1550V149H1551V147H1553V148H1554V149H1556V151H1557V144H1559V148H1561V151H1563V155H1565V162H1566V153H1569V159H1570V162H1571V149H1573V153H1574V158H1576V157H1582V158H1583V155H1585V158H1587V159H1588V161H1589V148H1591V154H1592V156H1593V150H1595V158H1596V147H1599V159H1600V157H1601V150H1607V146H1609V152H1610V154H1611V148H1613V143H1615V138H1617V145H1618V141H1619V139H1621V134H1622V127H1625V137H1626V135H1629V137H1631V128H1633V130H1635V126H1638V133H1639V132H1641V118H1643V129H1645V134H1646V133H1647V130H1649V120H1651V126H1653V117H1655V122H1657V127H1658V130H1659V127H1661V124H1662V122H1663V119H1668V129H1669V108H1671V120H1673V126H1674V127H1675V114H1677V113H1679V116H1680V114H1682V102H1684V115H1685V103H1686V102H1687V101H1689V107H1691V106H1693V107H1695V95H1697V108H1698V105H1699V101H1703V102H1704V92H1706V102H1707V106H1708V105H1709V104H1711V113H1712V119H1713V121H1714V111H1716V116H1717V109H1719V124H1720V123H1721V121H1723V119H1724V115H1727V116H1729V120H1730V115H1732V131H1733V127H1734V125H1736V126H1738V128H1739V118H1741V125H1743V131H1745V129H1746V125H1747V119H1749V116H1750V115H1752V118H1754V128H1755V123H1758V128H1759V118H1761V110H1763V100H1765V111H1766V121H1767V111H1769V115H1771V116H1772V117H1773V119H1774V121H1775V115H1777V118H1778V119H1779V118H1780V110H1781V109H1783V111H1784V119H1786V128H1788V122H1789V110H1791V126H1793V123H1795V122H1797V129H1798V130H1800V132H1802V136H1803V128H1805V139H1806V125H1808V145H1810V134H1812V146H1813V143H1815V146H1816V151H1817V129H1819V150H1821V161H1822V149H1826V155H1827V156H1828V154H1829V136H1831V154H1832V150H1834V153H1835V147H1838V155H1839V145H1841V153H1844V160H1845V148H1847V157H1848V149H1850V160H1851V155H1853V151H1855V154H1856V143H1858V158H1859V147H1861V154H1862V151H1864V144H1866V151H1867V147H1869V155H1870V148H1872V151H1873V153H1874V149H1876V143H1878V148H1880V160H1881V161H1882V149H1884V159H1886V154H1889V158H1890V160H1892V155H1894V166H1895V161H1897V160H1898V151H1900V163H1901V139H1903V155H1904V160H1905V158H1908V153H1911V154H1912V150H1914V156H1916V154H1917V141H1919V152H1920V159H1921V146H1923V152H1924V146H1926V156H1930V146H1933V157H1934V150H1936V149H1938V156H1940V155H1942V141H1944V156H1945V151H1947V158H1949V156H1951V149H1954V156H1955V153H1957V158H1958V164H1959V146H1963V149H1964V154H1965V158H1966V151H1967V146H1969V149H1971V141H1972V138H1973V116H1974V109H1975V70H1976V64H1978V82H1979V89H1980V120H1981V130H1982V134H1983V148H1985V159H1986V153H1988V150H1990V152H1992V156H1993V146H1995V153H1996V162H1997V163H1998V149H2000V160H2001V158H2003V156H2004V190H2002V186H2001V183H1999V189H1998V203H1996V182H1994V197H1991V181H1987V182H1983V171H1981V158H1980V148H1979V133H1978V108H1977V115H1976V130H1975V150H1974V154H1973V160H1972V177H1970V196H1968V181H1967V182H1966V186H1964V201H1962V182H1960V194H1957V189H1956V187H1955V183H1954V180H1953V186H1951V187H1949V186H1948V178H1947V191H1944V181H1943V182H1941V177H1940V191H1939V198H1937V174H1936V182H1934V183H1932V187H1931V192H1929V173H1928V178H1927V185H1924V179H1922V178H1921V183H1919V181H1918V179H1917V186H1915V184H1913V193H1911V186H1909V185H1908V192H1907V196H1905V185H1903V184H1901V181H1900V195H1898V184H1897V180H1896V187H1895V189H1892V188H1890V186H1886V181H1885V182H1883V183H1881V179H1879V180H1878V183H1877V185H1875V192H1873V182H1870V185H1868V182H1867V185H1865V175H1864V177H1863V179H1862V196H1860V182H1859V183H1857V182H1855V180H1854V182H1853V184H1851V181H1848V179H1847V181H1846V193H1844V183H1843V188H1841V183H1840V181H1839V191H1836V180H1835V186H1834V187H1832V185H1830V181H1828V179H1827V181H1825V171H1824V178H1823V181H1822V185H1820V176H1817V169H1816V170H1813V183H1811V169H1809V165H1804V164H1803V185H1800V170H1798V164H1797V154H1796V156H1795V167H1793V163H1792V156H1791V152H1790V161H1787V154H1783V141H1782V144H1780V151H1779V156H1776V144H1775V147H1773V151H1771V145H1770V154H1766V149H1764V145H1763V152H1761V159H1759V161H1757V151H1756V166H1755V170H1752V159H1747V155H1745V153H1744V156H1743V160H1740V157H1739V164H1736V167H1734V160H1732V162H1730V164H1728V147H1726V151H1723V161H1721V149H1720V146H1719V143H1718V152H1716V150H1715V162H1713V152H1712V157H1710V162H1708V142H1706V150H1704V148H1703V138H1700V133H1699V142H1697V135H1696V143H1694V139H1691V136H1690V135H1689V147H1686V140H1685V141H1683V156H1682V159H1679V145H1677V150H1676V160H1674V156H1672V158H1669V164H1667V153H1665V145H1664V147H1663V149H1662V156H1660V159H1657V151H1654V152H1653V153H1651V154H1650V155H1649V157H1647V158H1646V167H1644V158H1642V167H1640V162H1638V163H1636V167H1635V171H1633V161H1631V160H1629V159H1628V166H1627V170H1626V179H1624V166H1623V172H1621V171H1620V166H1619V180H1617V181H1615V166H1614V168H1611V185H1609V173H1608V176H1607V183H1604V173H1603V179H1601V177H1600V184H1598V180H1597V183H1595V191H1593V183H1591V182H1589V187H1587V184H1586V182H1585V187H1581V194H1579V193H1578V186H1577V183H1575V192H1574V195H1572V179H1571V183H1569V181H1568V187H1567V196H1564V182H1563V189H1562V191H1560V188H1559V192H1557V184H1555V175H1553V173H1552V177H1551V190H1549V184H1547V179H1545V169H1544V172H1542V184H1540V182H1538V193H1535V186H1534V189H1532V185H1530V181H1528V184H1526V179H1525V190H1523V179H1522V181H1520V179H1519V183H1516V179H1515V180H1512V186H1509V181H1508V182H1506V181H1505V183H1503V179H1502V175H1500V183H1498V184H1496V179H1495V172H1494V171H1492V177H1491V178H1490V184H1487V178H1486V185H1483V181H1481V179H1479V178H1478V186H1476V185H1475V186H1473V181H1471V178H1469V191H1467V182H1466V179H1465V183H1463V177H1461V193H1459V190H1457V181H1456V186H1454V179H1453V181H1449V195H1447V182H1446V188H1444V183H1443V185H1440V188H1439V190H1438V193H1436V185H1435V190H1434V195H1433V199H1431V189H1430V192H1428V190H1427V187H1426V191H1423V193H1421V191H1420V184H1419V192H1417V191H1416V193H1414V190H1412V196H1410V181H1408V192H1406V189H1402V191H1401V194H1399V195H1397V179H1396Z"/>
<path d="M1396 392V392H1398V380H1400V377H1402V376H1404V384H1405V385H1407V381H1409V387H1410V382H1412V389H1414V386H1417V376H1419V384H1420V382H1422V385H1424V387H1425V378H1427V385H1429V389H1432V388H1433V377H1435V386H1437V388H1439V381H1442V386H1445V385H1450V389H1451V386H1453V371H1455V384H1456V386H1457V388H1458V392H1459V385H1461V388H1462V379H1465V387H1466V391H1467V384H1469V367H1471V383H1473V387H1474V383H1477V380H1478V378H1480V382H1481V384H1482V389H1483V380H1485V385H1486V379H1488V387H1490V379H1492V378H1495V385H1497V381H1499V382H1501V380H1503V384H1504V385H1505V392H1506V390H1507V387H1509V391H1510V373H1512V388H1514V390H1516V392H1517V382H1518V379H1520V381H1521V377H1523V380H1525V388H1526V386H1527V384H1530V386H1531V384H1532V383H1534V391H1535V387H1537V389H1538V388H1540V381H1543V383H1544V386H1545V390H1547V383H1550V397H1551V390H1553V380H1555V383H1557V380H1558V377H1560V382H1561V383H1562V376H1564V372H1565V371H1567V375H1570V378H1571V379H1574V377H1575V375H1577V368H1579V364H1582V372H1584V365H1587V367H1588V364H1589V362H1591V360H1592V354H1595V358H1597V350H1599V349H1601V353H1603V345H1605V342H1606V339H1609V335H1611V336H1612V329H1614V337H1615V335H1616V329H1618V330H1620V339H1621V321H1623V325H1627V316H1629V312H1631V313H1634V309H1636V317H1637V314H1638V308H1640V301H1643V293H1645V307H1646V300H1648V297H1650V298H1651V278H1655V279H1657V278H1658V260H1660V265H1661V266H1663V261H1665V252H1667V253H1668V241H1670V240H1672V234H1673V230H1674V226H1675V205H1677V223H1678V221H1680V224H1681V222H1682V219H1683V208H1684V195H1686V198H1688V189H1690V198H1692V195H1695V206H1696V210H1697V192H1700V206H1702V213H1703V220H1704V217H1705V212H1707V215H1708V229H1709V224H1711V235H1715V238H1716V240H1718V246H1720V242H1722V239H1724V240H1725V247H1726V244H1728V260H1729V253H1730V244H1732V252H1733V255H1734V256H1735V250H1737V248H1739V238H1742V245H1743V239H1745V238H1747V247H1748V250H1749V236H1751V231H1754V228H1757V222H1760V227H1761V222H1763V210H1765V220H1766V216H1767V208H1768V206H1769V197H1772V178H1774V181H1775V198H1776V188H1779V194H1781V213H1783V237H1784V239H1786V246H1787V258H1788V263H1789V280H1790V287H1791V300H1793V306H1795V316H1796V324H1797V335H1798V343H1800V344H1801V349H1802V355H1804V370H1806V372H1809V378H1811V377H1812V376H1814V387H1815V380H1817V390H1819V396H1820V392H1821V389H1824V387H1825V386H1827V393H1829V389H1831V400H1833V402H1834V389H1836V398H1837V392H1839V395H1840V391H1841V390H1843V398H1844V399H1846V394H1847V389H1849V395H1850V396H1851V400H1852V388H1855V398H1856V388H1857V385H1860V392H1864V400H1865V396H1867V402H1868V393H1870V401H1871V400H1872V391H1873V388H1875V393H1877V395H1878V401H1879V398H1881V393H1883V382H1885V396H1886V398H1888V393H1890V398H1891V390H1893V397H1894V385H1897V394H1899V393H1900V392H1901V390H1904V394H1905V395H1906V387H1907V385H1909V388H1910V382H1912V385H1913V388H1914V392H1916V374H1918V390H1919V387H1922V392H1923V389H1924V387H1926V392H1927V394H1929V396H1930V394H1932V398H1934V390H1935V386H1937V388H1938V386H1940V392H1941V397H1942V388H1944V389H1945V394H1947V395H1948V401H1949V398H1950V391H1952V398H1953V391H1956V388H1958V392H1960V397H1961V393H1963V395H1965V397H1968V388H1970V391H1971V387H1973V388H1974V387H1976V390H1978V394H1979V392H1981V390H1984V398H1986V393H1989V386H1991V396H1992V386H1994V393H1997V396H1999V387H2001V393H2002V385H2004V419H2003V420H2002V427H1998V422H1996V423H1994V425H1991V421H1987V420H1984V418H1983V425H1981V427H1980V428H1978V418H1977V421H1976V426H1974V420H1972V413H1971V417H1970V422H1969V426H1967V429H1965V418H1964V416H1963V420H1959V415H1958V412H1957V417H1955V410H1954V418H1953V421H1951V424H1949V419H1948V422H1946V417H1944V413H1943V417H1941V413H1940V410H1938V424H1937V429H1933V415H1932V413H1931V418H1930V420H1926V419H1925V420H1921V417H1920V418H1916V423H1914V408H1913V415H1911V413H1909V424H1906V420H1905V419H1901V420H1900V422H1898V430H1896V417H1895V412H1894V429H1892V420H1890V426H1887V417H1886V426H1884V429H1882V415H1881V417H1880V421H1878V416H1877V425H1875V426H1873V428H1872V435H1870V424H1868V421H1867V418H1866V419H1865V425H1863V433H1861V436H1859V423H1856V418H1855V424H1853V421H1852V426H1850V422H1849V420H1848V430H1845V425H1844V423H1843V425H1841V415H1839V422H1837V423H1835V420H1834V422H1832V421H1829V426H1827V421H1825V417H1823V414H1822V421H1820V414H1819V425H1817V411H1816V413H1815V414H1814V418H1812V417H1811V409H1810V406H1808V401H1807V397H1806V401H1804V392H1802V386H1801V379H1799V370H1796V357H1795V345H1793V336H1792V326H1790V321H1789V299H1787V298H1786V293H1785V286H1784V274H1783V268H1782V263H1780V254H1777V253H1775V234H1774V241H1772V230H1771V240H1769V241H1768V243H1767V247H1766V263H1763V258H1762V263H1761V265H1759V277H1757V257H1756V267H1755V281H1752V284H1750V281H1749V276H1748V285H1746V283H1745V275H1744V281H1742V294H1741V295H1738V293H1736V282H1735V287H1733V279H1732V302H1730V284H1729V283H1728V276H1727V282H1725V305H1723V284H1722V299H1720V280H1718V275H1716V290H1714V276H1713V272H1712V257H1711V262H1709V260H1706V245H1705V253H1704V254H1702V247H1701V249H1699V228H1698V232H1697V236H1696V240H1695V242H1691V231H1689V245H1688V247H1686V246H1684V255H1683V257H1681V253H1680V256H1678V280H1676V268H1675V263H1674V278H1671V285H1669V271H1668V272H1667V280H1666V282H1664V285H1663V298H1662V303H1661V319H1660V326H1655V328H1653V312H1652V323H1651V327H1650V329H1648V346H1646V335H1645V337H1643V340H1641V342H1639V351H1636V349H1634V357H1632V349H1631V350H1629V347H1628V359H1626V353H1625V372H1623V365H1621V364H1619V358H1618V366H1615V374H1613V369H1611V373H1609V367H1607V373H1606V378H1602V376H1601V386H1600V393H1598V388H1597V389H1595V387H1594V388H1593V398H1590V385H1589V392H1585V393H1583V396H1582V400H1580V419H1578V414H1576V407H1574V401H1573V404H1572V406H1570V398H1569V406H1567V407H1566V410H1564V416H1562V409H1560V411H1558V412H1555V415H1553V421H1550V412H1549V426H1547V410H1546V411H1544V409H1543V410H1542V420H1540V418H1537V409H1535V418H1532V416H1530V412H1528V410H1526V406H1525V414H1524V416H1522V411H1521V409H1520V415H1518V410H1517V424H1515V417H1514V425H1512V413H1511V417H1509V415H1507V413H1506V407H1505V412H1502V415H1499V404H1498V408H1497V418H1495V409H1493V408H1491V412H1489V410H1488V413H1486V416H1484V417H1482V411H1481V412H1479V416H1477V413H1475V415H1474V423H1472V418H1471V416H1469V415H1468V419H1466V408H1465V403H1464V408H1463V410H1462V411H1460V415H1458V412H1457V411H1455V409H1453V416H1451V420H1447V409H1444V416H1442V412H1440V408H1439V410H1438V411H1436V410H1435V412H1434V419H1431V408H1428V422H1426V414H1424V407H1423V410H1421V415H1420V416H1418V412H1417V407H1416V412H1413V408H1409V406H1408V421H1406V422H1404V411H1403V407H1402V409H1400V411H1399V417H1397V416H1396Z"/>
<path d="M1396 663V663H1398V662H1399V656H1401V659H1402V662H1403V663H1404V655H1406V663H1407V659H1413V661H1416V660H1420V656H1424V657H1425V656H1427V657H1428V662H1429V659H1431V660H1432V661H1433V663H1435V661H1437V648H1439V660H1441V653H1443V659H1446V661H1448V657H1449V655H1451V661H1452V656H1454V655H1456V658H1458V656H1460V657H1463V655H1465V661H1468V656H1469V655H1471V660H1473V658H1475V659H1477V660H1478V663H1479V660H1481V661H1483V657H1487V662H1488V660H1491V655H1494V656H1495V662H1496V656H1498V658H1499V654H1501V664H1503V663H1504V659H1507V660H1508V653H1511V654H1514V657H1516V659H1517V656H1519V662H1522V659H1523V654H1526V658H1527V659H1529V662H1530V659H1532V660H1533V658H1534V657H1536V658H1537V654H1539V651H1541V653H1542V652H1544V656H1545V657H1546V654H1547V649H1549V655H1551V650H1553V653H1554V649H1556V646H1559V647H1562V645H1565V644H1567V641H1568V635H1570V638H1572V641H1573V639H1574V635H1575V634H1576V630H1578V633H1581V634H1582V632H1583V631H1585V636H1586V626H1590V623H1592V618H1594V624H1596V625H1597V614H1600V616H1601V615H1602V611H1604V615H1606V612H1610V613H1611V606H1613V600H1615V603H1616V595H1618V596H1619V595H1621V583H1623V591H1624V590H1625V581H1626V577H1629V580H1630V574H1632V586H1633V579H1634V572H1635V571H1636V569H1638V571H1640V568H1641V564H1643V570H1645V567H1647V556H1649V548H1651V553H1654V540H1657V541H1658V538H1659V531H1660V521H1662V534H1663V528H1664V525H1665V521H1666V520H1667V519H1668V518H1669V516H1671V508H1673V504H1676V493H1678V500H1679V496H1680V491H1682V486H1685V483H1687V480H1689V481H1690V483H1691V480H1693V474H1695V478H1696V481H1697V484H1699V476H1701V474H1703V485H1704V484H1706V482H1708V493H1709V496H1710V500H1711V505H1714V507H1715V504H1717V508H1718V507H1720V517H1721V511H1723V518H1725V520H1726V521H1728V528H1729V527H1730V525H1732V518H1734V520H1735V519H1736V513H1738V519H1739V506H1741V517H1743V523H1744V519H1745V513H1747V515H1749V521H1750V514H1752V507H1754V518H1755V514H1756V510H1760V508H1762V491H1764V484H1766V492H1768V495H1769V490H1772V491H1773V493H1777V495H1778V497H1779V498H1780V511H1781V514H1782V513H1784V523H1785V542H1786V532H1788V551H1789V556H1790V569H1793V583H1794V589H1795V590H1796V598H1798V605H1799V609H1800V611H1801V621H1802V618H1804V628H1806V634H1809V637H1812V645H1814V648H1816V652H1817V653H1819V646H1821V649H1822V652H1824V653H1826V655H1827V650H1830V655H1831V657H1832V653H1833V651H1835V656H1836V657H1838V662H1840V654H1842V658H1843V661H1845V663H1847V653H1849V656H1850V654H1852V656H1853V654H1856V657H1857V656H1859V659H1860V660H1861V661H1863V662H1864V658H1868V659H1869V662H1870V660H1871V658H1873V659H1875V657H1877V662H1879V659H1881V665H1882V663H1883V658H1886V666H1887V664H1889V665H1890V662H1893V665H1894V660H1896V664H1897V659H1898V656H1899V654H1901V657H1902V661H1903V663H1905V661H1906V660H1907V659H1909V662H1910V660H1911V658H1914V662H1915V667H1916V666H1917V656H1919V658H1921V659H1923V665H1924V667H1925V666H1927V665H1929V661H1931V663H1932V656H1934V665H1935V658H1937V662H1940V658H1942V665H1945V666H1946V665H1947V659H1948V656H1950V668H1951V661H1952V653H1954V660H1955V663H1957V660H1959V661H1961V659H1963V664H1964V662H1965V657H1967V660H1969V656H1971V663H1972V664H1974V660H1976V662H1977V659H1979V663H1981V665H1982V663H1983V655H1985V661H1986V658H1988V657H1990V662H1992V664H1993V662H1995V660H1997V662H2001V663H2002V662H2003V657H2004V679H2003V683H2001V680H2000V683H1997V686H1995V679H1994V675H1993V679H1991V682H1988V680H1985V674H1984V678H1983V679H1982V687H1980V681H1979V680H1978V686H1976V678H1975V680H1974V684H1972V678H1971V679H1970V686H1968V679H1967V676H1966V682H1964V680H1963V682H1961V680H1958V675H1957V686H1955V682H1954V678H1953V679H1952V685H1950V680H1948V683H1946V682H1945V684H1944V687H1942V681H1940V677H1939V679H1938V682H1936V677H1935V675H1933V672H1932V681H1930V684H1929V687H1927V682H1926V681H1925V680H1924V683H1922V682H1921V681H1919V679H1918V677H1917V678H1916V680H1914V677H1913V680H1911V683H1908V680H1906V682H1905V684H1903V682H1902V679H1900V678H1898V679H1897V682H1896V685H1894V683H1891V676H1890V680H1889V682H1886V679H1885V675H1884V678H1883V679H1882V683H1878V679H1876V677H1874V671H1873V675H1872V680H1868V678H1867V677H1864V676H1861V675H1860V676H1857V681H1855V679H1853V680H1850V676H1849V677H1846V686H1844V675H1843V677H1841V675H1839V674H1837V670H1836V678H1834V671H1833V670H1832V671H1831V672H1830V675H1826V671H1823V668H1822V667H1821V665H1820V671H1818V667H1816V668H1814V669H1812V656H1811V659H1810V661H1808V653H1807V656H1805V652H1804V647H1801V640H1799V628H1798V618H1797V621H1795V612H1794V610H1792V598H1791V585H1789V583H1787V570H1785V566H1784V558H1782V534H1781V533H1780V520H1779V522H1777V512H1776V514H1774V512H1773V513H1771V518H1769V520H1766V519H1765V531H1763V522H1762V531H1761V538H1758V543H1754V540H1752V539H1751V543H1749V541H1747V547H1745V540H1744V553H1742V540H1740V541H1738V547H1736V545H1734V541H1733V542H1731V545H1728V548H1726V542H1725V544H1722V541H1720V537H1719V534H1718V540H1716V532H1714V529H1713V532H1711V524H1709V525H1707V524H1706V520H1705V517H1704V515H1702V511H1701V501H1700V500H1699V502H1697V503H1695V506H1692V511H1690V507H1688V513H1686V514H1684V512H1683V522H1681V518H1679V528H1677V522H1676V531H1675V540H1673V527H1672V534H1671V541H1669V549H1668V553H1666V549H1665V544H1664V566H1662V559H1661V560H1659V566H1655V571H1654V582H1652V584H1650V590H1648V585H1647V587H1645V586H1644V585H1643V588H1642V593H1641V605H1638V596H1637V598H1636V604H1634V603H1631V602H1630V601H1628V604H1627V606H1625V608H1624V609H1622V618H1620V616H1618V619H1617V630H1615V624H1614V627H1612V631H1610V637H1607V631H1606V634H1605V639H1603V643H1600V632H1599V637H1598V642H1596V647H1594V638H1593V643H1591V644H1590V647H1588V657H1586V650H1585V648H1584V661H1582V654H1580V653H1578V651H1577V652H1576V654H1575V658H1573V664H1572V668H1570V660H1568V661H1566V660H1565V662H1563V666H1561V668H1559V670H1557V669H1555V674H1553V673H1551V674H1549V670H1547V669H1546V668H1545V669H1544V676H1541V674H1540V677H1538V673H1537V677H1535V672H1532V676H1530V672H1529V680H1527V685H1525V679H1523V677H1522V674H1521V677H1520V679H1517V678H1515V673H1513V672H1512V681H1510V672H1509V673H1508V676H1507V679H1505V678H1503V673H1502V676H1499V683H1497V675H1496V677H1495V679H1492V672H1491V681H1489V683H1487V675H1486V680H1484V675H1483V674H1482V675H1481V678H1478V674H1477V675H1476V676H1474V675H1472V687H1470V678H1469V676H1468V683H1466V677H1462V676H1461V682H1459V676H1457V682H1455V678H1453V684H1450V683H1449V680H1447V677H1446V675H1444V676H1441V682H1439V681H1437V678H1436V683H1434V679H1432V676H1431V678H1429V680H1426V676H1425V678H1424V682H1422V677H1421V675H1420V680H1418V674H1417V675H1416V677H1414V680H1412V682H1410V680H1409V684H1407V685H1405V679H1404V680H1401V677H1400V683H1398V679H1396Z"/>
</g>
<rect x="104.40" y="2.40" width="612.40" height="737.30" fill="none" stroke="#000" stroke-width="2.8"/>
<line x1="138.50" x2="138.50" y1="739.70" y2="754.60" stroke="#000" stroke-width="2.8"/>
<line x1="243.66" x2="243.66" y1="739.70" y2="754.60" stroke="#000" stroke-width="2.8"/>
<line x1="348.82" x2="348.82" y1="739.70" y2="754.60" stroke="#000" stroke-width="2.8"/>
<line x1="453.98" x2="453.98" y1="739.70" y2="754.60" stroke="#000" stroke-width="2.8"/>
<line x1="559.14" x2="559.14" y1="739.70" y2="754.60" stroke="#000" stroke-width="2.8"/>
<line x1="664.30" x2="664.30" y1="739.70" y2="754.60" stroke="#000" stroke-width="2.8"/>
<line x1="191.08" x2="191.08" y1="739.70" y2="747.00" stroke="#000" stroke-width="2.8"/>
<line x1="296.24" x2="296.24" y1="739.70" y2="747.00" stroke="#000" stroke-width="2.8"/>
<line x1="401.40" x2="401.40" y1="739.70" y2="747.00" stroke="#000" stroke-width="2.8"/>
<line x1="506.56" x2="506.56" y1="739.70" y2="747.00" stroke="#000" stroke-width="2.8"/>
<line x1="611.72" x2="611.72" y1="739.70" y2="747.00" stroke="#000" stroke-width="2.8"/>
<line x1="716.80" x2="716.80" y1="739.70" y2="747.00" stroke="#000" stroke-width="2.8"/>
<text transform="translate(138.50 790.70) scale(0.9800 1)" font-size="38.8" font-weight="bold" text-anchor="middle">600</text>
<text transform="translate(243.66 790.70) scale(0.9800 1)" font-size="38.8" font-weight="bold" text-anchor="middle">900</text>
<text transform="translate(348.82 790.70) scale(0.9800 1)" font-size="38.8" font-weight="bold" text-anchor="middle">1200</text>
<text transform="translate(453.98 790.70) scale(0.9800 1)" font-size="38.8" font-weight="bold" text-anchor="middle">1500</text>
<text transform="translate(559.14 790.70) scale(0.9800 1)" font-size="38.8" font-weight="bold" text-anchor="middle">1800</text>
<text transform="translate(664.30 790.70) scale(0.9800 1)" font-size="38.8" font-weight="bold" text-anchor="middle">2100</text>
<rect x="748.45" y="1.10" width="612.35" height="737.40" fill="none" stroke="#000" stroke-width="2.8"/>
<line x1="782.80" x2="782.80" y1="738.50" y2="752.80" stroke="#000" stroke-width="2.8"/>
<line x1="887.96" x2="887.96" y1="738.50" y2="752.80" stroke="#000" stroke-width="2.8"/>
<line x1="993.12" x2="993.12" y1="738.50" y2="752.80" stroke="#000" stroke-width="2.8"/>
<line x1="1098.28" x2="1098.28" y1="738.50" y2="752.80" stroke="#000" stroke-width="2.8"/>
<line x1="1203.44" x2="1203.44" y1="738.50" y2="752.80" stroke="#000" stroke-width="2.8"/>
<line x1="1308.60" x2="1308.60" y1="738.50" y2="752.80" stroke="#000" stroke-width="2.8"/>
<line x1="835.38" x2="835.38" y1="738.50" y2="745.60" stroke="#000" stroke-width="2.8"/>
<line x1="940.54" x2="940.54" y1="738.50" y2="745.60" stroke="#000" stroke-width="2.8"/>
<line x1="1045.70" x2="1045.70" y1="738.50" y2="745.60" stroke="#000" stroke-width="2.8"/>
<line x1="1150.86" x2="1150.86" y1="738.50" y2="745.60" stroke="#000" stroke-width="2.8"/>
<line x1="1256.02" x2="1256.02" y1="738.50" y2="745.60" stroke="#000" stroke-width="2.8"/>
<line x1="1360.80" x2="1360.80" y1="738.50" y2="745.60" stroke="#000" stroke-width="2.8"/>
<text transform="translate(782.80 786.20) scale(0.9800 1)" font-size="38.8" font-weight="bold" text-anchor="middle">600</text>
<text transform="translate(887.96 786.20) scale(0.9800 1)" font-size="38.8" font-weight="bold" text-anchor="middle">900</text>
<text transform="translate(993.12 786.20) scale(0.9800 1)" font-size="38.8" font-weight="bold" text-anchor="middle">1200</text>
<text transform="translate(1098.28 786.20) scale(0.9800 1)" font-size="38.8" font-weight="bold" text-anchor="middle">1500</text>
<text transform="translate(1203.44 786.20) scale(0.9800 1)" font-size="38.8" font-weight="bold" text-anchor="middle">1800</text>
<text transform="translate(1308.60 786.20) scale(0.9800 1)" font-size="38.8" font-weight="bold" text-anchor="middle">2100</text>
<rect x="1395.50" y="1.00" width="609.90" height="735.50" fill="none" stroke="#000" stroke-width="2.8"/>
<line x1="1430.00" x2="1430.00" y1="736.50" y2="751.60" stroke="#000" stroke-width="2.8"/>
<line x1="1534.54" x2="1534.54" y1="736.50" y2="751.60" stroke="#000" stroke-width="2.8"/>
<line x1="1639.08" x2="1639.08" y1="736.50" y2="751.60" stroke="#000" stroke-width="2.8"/>
<line x1="1743.62" x2="1743.62" y1="736.50" y2="751.60" stroke="#000" stroke-width="2.8"/>
<line x1="1848.16" x2="1848.16" y1="736.50" y2="751.60" stroke="#000" stroke-width="2.8"/>
<line x1="1952.70" x2="1952.70" y1="736.50" y2="751.60" stroke="#000" stroke-width="2.8"/>
<line x1="1482.27" x2="1482.27" y1="736.50" y2="743.80" stroke="#000" stroke-width="2.8"/>
<line x1="1586.81" x2="1586.81" y1="736.50" y2="743.80" stroke="#000" stroke-width="2.8"/>
<line x1="1691.35" x2="1691.35" y1="736.50" y2="743.80" stroke="#000" stroke-width="2.8"/>
<line x1="1795.89" x2="1795.89" y1="736.50" y2="743.80" stroke="#000" stroke-width="2.8"/>
<line x1="1900.43" x2="1900.43" y1="736.50" y2="743.80" stroke="#000" stroke-width="2.8"/>
<line x1="2005.40" x2="2005.40" y1="736.50" y2="743.80" stroke="#000" stroke-width="2.8"/>
<text transform="translate(1430.00 787.60) scale(0.9800 1)" font-size="38.8" font-weight="bold" text-anchor="middle">600</text>
<text transform="translate(1534.54 787.60) scale(0.9800 1)" font-size="38.8" font-weight="bold" text-anchor="middle">900</text>
<text transform="translate(1639.08 787.60) scale(0.9800 1)" font-size="38.8" font-weight="bold" text-anchor="middle">1200</text>
<text transform="translate(1743.62 787.60) scale(0.9800 1)" font-size="38.8" font-weight="bold" text-anchor="middle">1500</text>
<text transform="translate(1848.16 787.60) scale(0.9800 1)" font-size="38.8" font-weight="bold" text-anchor="middle">1800</text>
<text transform="translate(1952.70 787.60) scale(0.9800 1)" font-size="38.8" font-weight="bold" text-anchor="middle">2100</text>
<rect x="681.0" y="3.0" width="13.0" height="14.6"/>
<rect x="1324.6" y="6.2" width="12.5" height="12.5"/>
<rect x="1967.4" y="4.5" width="12.5" height="13.2"/>
<text transform="translate(108.10 47.50) scale(1.0300 1)" font-size="55.2" font-weight="bold">a)</text>
<text transform="translate(753.00 47.50) scale(1.0300 1)" font-size="55.2" font-weight="bold">b)</text>
<text transform="translate(1399.30 47.50) scale(1.0300 1)" font-size="55.2" font-weight="bold">c)</text>
<text transform="translate(108.00 137.80) scale(1.0250 1)" font-size="43" font-weight="bold">(i)</text>
<text transform="translate(108.00 344.00) scale(1.0250 1)" font-size="43" font-weight="bold">(ii)</text>
<text transform="translate(108.00 638.00) scale(1.0250 1)" font-size="43" font-weight="bold">(iii)</text>
<text transform="translate(753.20 137.80) scale(1.0250 1)" font-size="43" font-weight="bold">(i)</text>
<text transform="translate(753.20 344.00) scale(1.0250 1)" font-size="43" font-weight="bold">(ii)</text>
<text transform="translate(753.20 638.00) scale(1.0250 1)" font-size="43" font-weight="bold">(iii)</text>
<text transform="translate(1400.00 137.80) scale(1.0250 1)" font-size="43" font-weight="bold">(i)</text>
<text transform="translate(1400.00 344.00) scale(1.0250 1)" font-size="43" font-weight="bold">(ii)</text>
<text transform="translate(1400.00 638.00) scale(1.0250 1)" font-size="43" font-weight="bold">(iii)</text>
<text transform="translate(282.40 55.00)" font-size="43.8" font-style="italic">D-band</text>
<text transform="translate(448.00 55.00)" font-size="43.8" font-style="italic">G-band</text>
<text transform="translate(156.60 861.80) scale(0.9566 1)" font-size="64.2" font-weight="bold">Raman Shift (cm<tspan font-size="37.6" dx="0" dy="-27.6">−</tspan><tspan font-size="37.6" dx="1" dy="-2.4">1</tspan><tspan dy="30">)</tspan></text>
<text transform="translate(800.90 860.30) scale(0.9563 1)" font-size="64.2" font-weight="bold">Raman Shift (cm<tspan font-size="37.6" dx="0" dy="-27.6">−</tspan><tspan font-size="37.6" dx="1" dy="-2.4">1</tspan><tspan dy="30">)</tspan></text>
<text transform="translate(1452.60 858.60) scale(0.9526 1)" font-size="64.2" font-weight="bold">Raman Shift (cm<tspan font-size="37.6" dx="-1" dy="-30">-</tspan><tspan font-size="37.6" dx="1.5" dy="0">1</tspan><tspan dy="30">)</tspan></text>
<text transform="translate(43.80 679.40) rotate(-90) scale(0.9740 1)" font-size="63" font-weight="bold">Intensity (arb. units)</text>
</svg>
</body></html>
